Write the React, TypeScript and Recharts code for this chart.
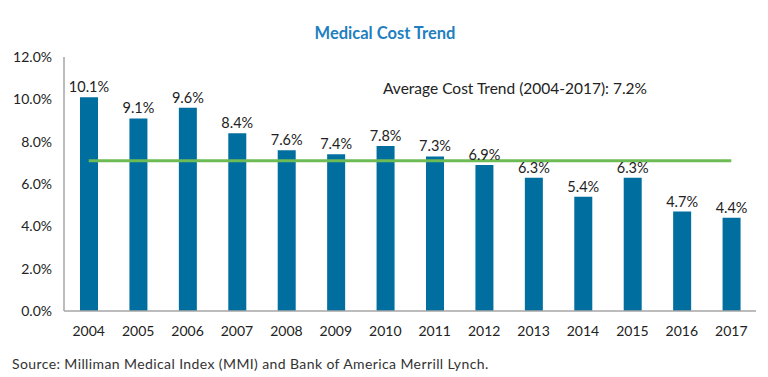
import { Bar, ComposedChart, LabelList, ReferenceLine, XAxis, YAxis } from 'recharts'

const years = ['2004', '2005', '2006', '2007', '2008', '2009', '2010', '2011', '2012', '2013', '2014', '2015', '2016', '2017']
const costTrend = [10.1, 9.1, 9.6, 8.4, 7.6, 7.4, 7.8, 7.3, 6.9, 6.3, 5.4, 6.3, 4.7, 4.4]
const yTicks = [0, 2, 4, 6, 8, 10, 12]
const avgTrend = 7.1
const avgText = 'Average Cost Trend (2004-2017): 7.2%'

const data = years.map((year, i) => ({ year, value: costTrend[i] }))

const font = 'Lato, "Open Sans", sans-serif'

export default function App() {
  return (
    <div style={{ position: 'absolute', left: 0, top: 0, width: 768, height: 377, background: '#fff', fontFamily: font }}>
      <div
        style={{
          position: 'absolute',
          top: 23,
          left: 0,
          width: 770,
          textAlign: 'center',
          color: '#1f7fc0',
          fontWeight: 700,
          fontSize: 16.5,
        }}
      >
        Medical Cost Trend
      </div>
      <ComposedChart
        width={768}
        height={377}
        data={data}
        margin={{ top: 57, right: 12, bottom: 36, left: 0 }}
      >
        <XAxis
          dataKey="year"
          height={30}
          tickLine={false}
          tickSize={0}
          tickMargin={15}
          axisLine={{ stroke: '#a6a6a6', strokeWidth: 1.5 }}
          tick={{ fill: '#222', fontSize: 14, fontFamily: font }}
        />
        <YAxis
          domain={[0, 12]}
          ticks={yTicks}
          width={64}
          tickLine={false}
          tickSize={0}
          tickMargin={12}
          interval={0}
          axisLine={{ stroke: '#a6a6a6', strokeWidth: 1.5 }}
          tickFormatter={(v: number) => `${v.toFixed(1)}%`}
          tick={{ fill: '#222', fontSize: 14, fontFamily: font }}
        />
        <Bar dataKey="value" fill="#006e9f" barSize={18} isAnimationActive={false}>
          <LabelList
            dataKey="value"
            position="top"
            offset={5}
            formatter={(v: number) => `${v.toFixed(1)}%`}
            style={{ fill: '#222', fontSize: 14.5, fontFamily: font }}
          />
        </Bar>
        <ReferenceLine
          segment={[
            { x: years[0], y: avgTrend },
            { x: years[years.length - 1], y: avgTrend },
          ]}
          stroke="#6dbb55"
          strokeWidth={3}
        />
      </ComposedChart>
      <div style={{ position: 'absolute', left: 383, top: 79, fontSize: 15.5, color: '#222' }}>{avgText}</div>
      <div style={{ position: 'absolute', left: 12, top: 355, fontSize: 14, letterSpacing: 0.4, color: '#333' }}>
        Source: Milliman Medical Index (MMI) and Bank of America Merrill Lynch.
      </div>
    </div>
  )
}
